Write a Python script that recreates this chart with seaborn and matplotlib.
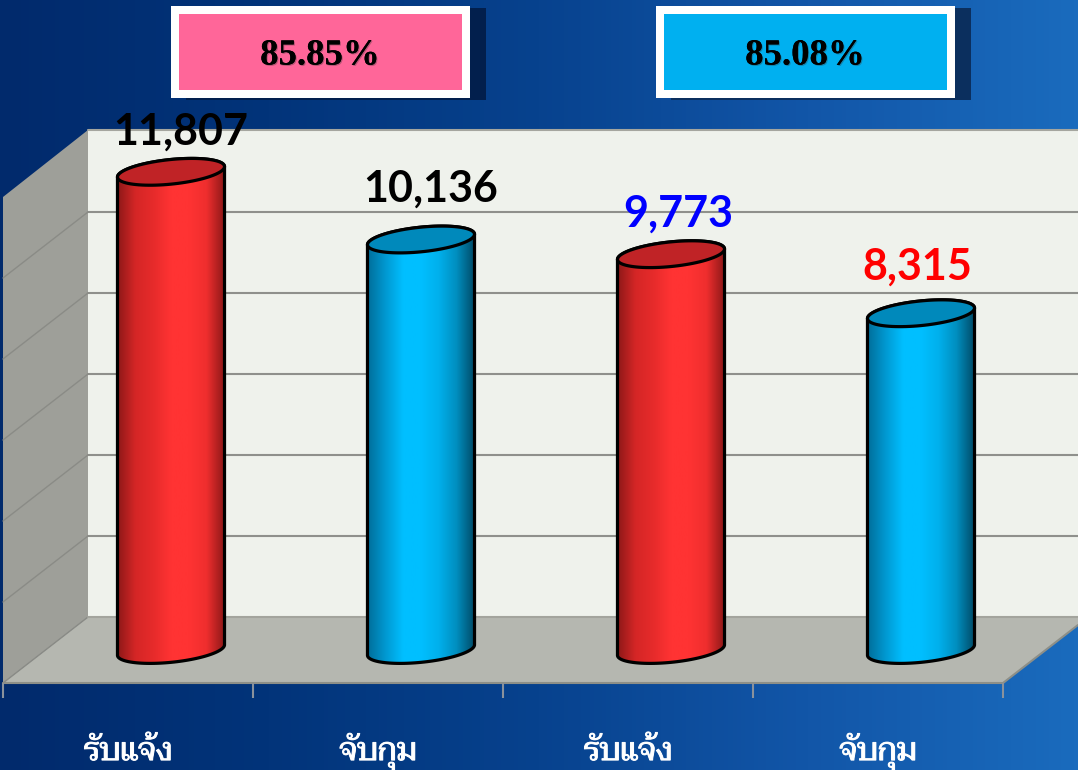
import matplotlib
matplotlib.use("Agg")
import matplotlib.pyplot as plt
import matplotlib.patheffects as pe
from matplotlib.colors import LinearSegmentedColormap
from matplotlib.patches import Polygon, Rectangle
import numpy as np
import pandas as pd
import seaborn as sns

kinds = ["รับแจ้ง", "จับกุม", "รับแจ้ง", "จับกุม"]
values = [11807, 10136, 9773, 8315]
value_labels = ["11,807", "10,136", "9,773", "8,315"]
label_colors = ["black", "black", "#0000ff", "#ff0000"]
rates = ["85.85%", "85.08%"]
y_ticks = [2000, 4000, 6000, 8000, 10000]

W, H = 1078, 770

sns.set_theme(style="white")
fig = plt.figure(figsize=(W / 100, H / 100), dpi=100)

# background and 3d box, in image pixels
bg = fig.add_axes([0, 0, 1, 1], zorder=0)
bg_cmap = LinearSegmentedColormap.from_list("bg", ["#012a6c", "#02347a", "#07428e", "#1256a8", "#1a6bbd"])
bg.imshow(np.linspace(0, 1, 256).reshape(1, -1), cmap=bg_cmap, aspect="auto", extent=(0, W, H, 0))
bg.add_patch(Polygon([(88, 130), (W, 130), (W, 617), (88, 617)], fc="#eff2ec", ec="none"))
bg.add_patch(Polygon([(3, 197), (88, 130), (88, 617), (3, 683)], fc="#9e9f99", ec="none"))
bg.add_patch(Polygon([(88, 617), (W, 617), (W, 625), (1003, 683), (3, 683)], fc="#b5b7b0", ec="none"))
bg.plot([88, W], [130, 130], color="#a5a69f", lw=1.5)
bg.plot([3, 1003, W], [683, 683, 625], color="#8d8f88", lw=1.5)
bg.set_xlim(0, W)
bg.set_ylim(H, 0)
bg.set_axis_off()

# bars on the value scale
ax = fig.add_axes([46 / W, (H - 650) / H, 1000 / W, 486 / H], zorder=1)
df = pd.DataFrame({"slot": range(4), "kind": kinds, "value": values})
sns.barplot(data=df, x="slot", y="value", hue="kind", dodge=False, width=0.43, legend=False,
            palette={kinds[0]: "#ff3333", kinds[1]: "#00bfff"}, ax=ax)
ax.set_xlim(-0.5, 3.5)
ax.set_ylim(0, 12000)
ax.set_axis_off()

# gridlines sit on the back wall, 33 px above the bar plane
to_px = ax.transData + bg.transData.inverted()
for t in y_ticks:
    y = to_px.transform((0, t))[1] - 33
    bg.plot([88, W], [y, y], color="#8f908c", lw=1.5)
    bg.plot([3, 88], [y + 66, y], color="#8a8b86", lw=1)
bg.plot([3, 88], [683, 617], color="#8a8b86", lw=1)
bg.plot([88, W], [617, 617], color="#a3a49d", lw=1.5)
bg.set_xlim(0, W)
bg.set_ylim(H, 0)

# cylinders on top of the bars
over = fig.add_axes([0, 0, 1, 1], zorder=2)
over.patch.set_alpha(0)
red_cmap = LinearSegmentedColormap.from_list("r", ["#8c1818", "#d42626", "#e62b2b", "#ff3333", "#ff3333", "#ef2e2e", "#8c1818"])
blue_cmap = LinearSegmentedColormap.from_list("b", ["#006d99", "#0098d0", "#00bfff", "#00bfff", "#00b0ec", "#008ebf", "#004a66"])
tilt = np.deg2rad(5.3)


def ell(cx, cy, a, b, t):
    return np.column_stack([cx + a * np.cos(t) * np.cos(tilt) - b * np.sin(t) * np.sin(tilt),
                            cy - a * np.cos(t) * np.sin(tilt) + b * np.sin(t) * np.cos(tilt)])


bars = sorted([p for p in ax.patches if p.get_height() > 0], key=lambda p: p.get_x())
label_dx = [10, 10, 7, -4]
label_dy = [40, 51, 41, 47]
for i, bar in enumerate(bars):
    x0, y0 = to_px.transform((bar.get_x(), 0))
    x1, y1 = to_px.transform((bar.get_x() + bar.get_width(), bar.get_height()))
    cx, a, b = (x0 + x1) / 2, (x1 - x0) / 2, 12.5
    low = ell(cx, y0, a, b, np.linspace(np.pi, 0, 60))
    up = ell(cx, y1, a, b, np.linspace(0, -np.pi, 60))
    outline = np.vstack([low, up])
    over.add_patch(Polygon(outline, closed=True, fc="none", ec="black", lw=2.3, zorder=4))
    cmap = red_cmap if i % 2 == 0 else blue_cmap
    im = over.imshow(np.linspace(0, 1, 128).reshape(1, -1), cmap=cmap, aspect="auto",
                     extent=(x0, x1, y0 + 20, y1 - 20), zorder=3)
    im.set_clip_path(Polygon(outline, closed=True, transform=over.transData))
    bar.set_clip_path(Polygon(outline, closed=True, transform=over.transData))
    top = ell(cx, y1, a, b, np.linspace(0, 2 * np.pi, 90))
    over.add_patch(Polygon(top, closed=True, fc="#c02326" if i % 2 == 0 else "#0089bb",
                           ec="black", lw=2.3, zorder=5))
    over.text(cx + label_dx[i], y1 - label_dy[i], value_labels[i], ha="center", va="center", family="Lato",
              fontweight="bold", fontsize=31, color=label_colors[i], zorder=6)

# the two rate boxes
for x, rate, col, shade in [(171, rates[0], "#ff6699", "#021f4d"), (656, rates[1], "#00b0f0", "#0b2f5e")]:
    over.add_patch(Rectangle((x + 15, 8), 300, 92, fc=shade, ec="none", zorder=2))
    over.add_patch(Rectangle((x, 6), 299, 92, fc="white", ec="none", zorder=2))
    over.add_patch(Rectangle((x + 8, 14), 283, 76, fc=col, ec="none", zorder=2))
    over.text(x + 149, 55, rate, ha="center", va="center", family="Liberation Serif", fontweight="bold",
              fontsize=26.5, color="black", zorder=3,
              path_effects=[pe.withSimplePatchShadow(offset=(0.8, -0.8), shadow_rgbFace="#333333", alpha=0.35), pe.Normal()])

over.set_xlim(0, W)
over.set_ylim(H, 0)
over.set_axis_off()

# category axis on the front edge of the floor
front = fig.add_axes([3 / W, (H - 683) / H, 1000 / W, 1 / H], zorder=3)
front.patch.set_alpha(0)
front.set_xlim(-0.5, 3.5)
front.set_yticks([])
sns.despine(ax=front, left=True, right=True, top=True, bottom=True)
front.set_xticks([-0.5, 0.5, 1.5, 2.5, 3.5])
front.set_xticklabels([])
front.set_xticks([0, 1, 2, 3], minor=True)
front.set_xticklabels(kinds, minor=True, family=["Taviraj", "DejaVu Sans"], fontsize=23, color="white")
front.tick_params(axis="x", which="major", bottom=True, length=10.5, width=1.5, color="#8a929c")
front.tick_params(axis="x", which="minor", bottom=False, length=0, pad=55.5)
for lab in front.get_xticklabels(minor=True):
    lab.set_va("baseline")
    lab.set_path_effects([pe.withStroke(linewidth=0.7, foreground="white")])

fig.savefig("out.png", dpi=100)
